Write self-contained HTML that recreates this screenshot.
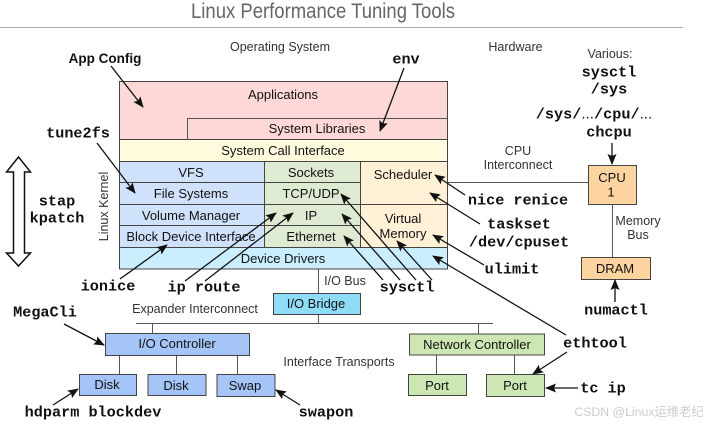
<!DOCTYPE html>
<html><head><meta charset="utf-8"><style>
html,body{margin:0;padding:0;background:#fff}
svg{display:block;filter:blur(.3px)}
text{font-family:"Liberation Sans","Noto Sans CJK SC",sans-serif;font-size:13px;fill:#111;text-anchor:middle}
.m{font-family:"Liberation Mono",monospace;font-weight:bold;font-size:15.2px;fill:#111}
.m tspan{font-family:"Liberation Sans",sans-serif;font-weight:normal}
.s{fill:#333;font-size:12.500px}
.b{stroke:#444;stroke-width:1}
.a{stroke:#111;stroke-width:1.3;fill:none;marker-end:url(#h)}
.l{stroke:#555;stroke-width:1;fill:none}
</style></head><body>
<svg width="718" height="425" viewBox="0 0 718 425" xmlns="http://www.w3.org/2000/svg">
<defs><marker id="h" markerUnits="userSpaceOnUse" markerWidth="11" markerHeight="9" refX="10" refY="4.500" orient="auto"><path d="M0,0L11,4.500L0,9L2,4.500Z" fill="#111"/></marker></defs>
<text x="323" y="18" textLength="264" lengthAdjust="spacingAndGlyphs" style="font-size:21px;fill:#666">Linux Performance Tuning Tools</text>
<line x1="0" y1="27.500" x2="683" y2="27.500" stroke="#aaa"/>
<text x="280" y="51" class="s">Operating System</text>
<text x="515.500" y="51" class="s">Hardware</text>
<text x="610" y="58" class="s">Various:</text>

<rect x="119.500" y="81.500" width="328" height="58" fill="#fed7d7" class="b"/>
<path d="M187.500 139V118.500H447" class="l" stroke="#444"/>
<rect x="119.500" y="139.500" width="328" height="22" fill="#fffbdc" class="b"/>
<rect x="119.500" y="161.500" width="145" height="21" fill="#d0e2fb" class="b"/>
<rect x="119.500" y="182.500" width="145" height="22" fill="#d0e2fb" class="b"/>
<rect x="119.500" y="204.500" width="145" height="21" fill="#d0e2fb" class="b"/>
<rect x="119.500" y="225.500" width="145" height="22" fill="#d0e2fb" class="b"/>
<rect x="264.500" y="161.500" width="96" height="21" fill="#dfead2" class="b"/>
<rect x="264.500" y="182.500" width="96" height="22" fill="#dfead2" class="b"/>
<rect x="264.500" y="204.500" width="96" height="21" fill="#dfead2" class="b"/>
<rect x="264.500" y="225.500" width="96" height="22" fill="#dfead2" class="b"/>
<rect x="360.500" y="161.500" width="87" height="43" fill="#fff0d6" class="b"/>
<rect x="360.500" y="204.500" width="87" height="43" fill="#fff0d6" class="b"/>
<rect x="119.500" y="247.500" width="328" height="21.500" fill="#cbeefe" class="b"/>

<text x="283" y="99">Applications</text>
<text x="317" y="133">System Libraries</text>
<text x="283" y="155">System Call Interface</text>
<text x="191" y="177">VFS</text>
<text x="191" y="198">File Systems</text>
<text x="191" y="220">Volume Manager</text>
<text x="191" y="241">Block Device Interface</text>
<text x="311" y="177">Sockets</text>
<text x="311" y="198">TCP/UDP</text>
<text x="311" y="220">IP</text>
<text x="311" y="241">Ethernet</text>
<text x="403" y="179">Scheduler</text>
<text x="403" y="223">Virtual</text>
<text x="403" y="238">Memory</text>
<text x="283" y="263">Device Drivers</text>
<text transform="translate(108,206.500) rotate(-90)" class="s" x="0" y="0">Linux Kernel</text>

<path d="M318.500 269V293M318.500 314V323M136 323.500H493M152.500 323V333M478.500 323V334M119.500 355V374M176.500 355V374M237.500 355V374M436.500 355V374M514.500 355V374M447 182.500H588M612.500 204V257" class="l"/>
<rect x="273.500" y="293.500" width="87" height="21" fill="#8fdcf7" class="b"/>
<rect x="105.500" y="333.500" width="144" height="22" fill="#a5c5f8" class="b"/>
<rect x="79.500" y="374.500" width="57" height="21" fill="#a5c5f8" class="b"/>
<rect x="148" y="374.500" width="58" height="21" fill="#a5c5f8" class="b"/>
<rect x="217" y="374.500" width="58" height="22" fill="#a5c5f8" class="b"/>
<rect x="409.500" y="334" width="135" height="21" fill="#cde7b4" class="b"/>
<rect x="408.500" y="374.500" width="58" height="21" fill="#cde7b4" class="b"/>
<rect x="486.500" y="374.500" width="58" height="22" fill="#cde7b4" class="b"/>
<rect x="588.500" y="165.500" width="48" height="39" fill="#fdd4a0" class="b"/>
<rect x="581.500" y="257.500" width="69" height="22" fill="#fdd4a0" class="b"/>

<text x="316" y="308">I/O Bridge</text>
<text x="177" y="348">I/O Controller</text>
<text x="107" y="389">Disk</text>
<text x="176" y="390">Disk</text>
<text x="245" y="390">Swap</text>
<text x="477" y="349">Network Controller</text>
<text x="437" y="390">Port</text>
<text x="515" y="390">Port</text>
<text x="612" y="182">CPU</text>
<text x="611" y="196.500">1</text>
<text x="615" y="273">DRAM</text>
<text x="518" y="155" class="s">CPU</text>
<text x="518" y="169" class="s">Interconnect</text>
<text x="638" y="225" class="s">Memory</text>
<text x="638" y="239" class="s">Bus</text>
<text x="345" y="285" class="s">I/O Bus</text>
<text x="195" y="313" class="s">Expander Interconnect</text>
<text x="339" y="366" class="s">Interface Transports</text>

<text x="105" y="63" style="font-weight:bold;font-size:13.500px">App Config</text>
<text x="406" y="63.500" class="m">env</text>
<text x="78" y="137.500" class="m">tune2fs</text>
<text x="57" y="205.500" class="m">stap</text>
<text x="57" y="222.500" class="m">kpatch</text>
<text x="108" y="290.500" class="m">ionice</text>
<text x="204" y="291.500" class="m">ip route</text>
<text x="407" y="291.500" class="m">sysctl</text>
<text x="45" y="316.500" class="m">MegaCli</text>
<text x="93" y="416.500" class="m">hdparm blockdev</text>
<text x="326" y="416.500" class="m">swapon</text>
<text x="609" y="76.500" class="m">sysctl</text>
<text x="609" y="93.500" class="m">/sys</text>
<text x="594" y="118.500" class="m">/sys/<tspan>...</tspan>/cpu/<tspan>...</tspan></text>
<text x="609" y="136.500" class="m">chcpu</text>
<text x="518" y="204.500" class="m">nice renice</text>
<text x="519" y="228.500" class="m">taskset</text>
<text x="519" y="246.500" class="m">/dev/cpuset</text>
<text x="512" y="273.500" class="m">ulimit</text>
<text x="616" y="314.500" class="m">numactl</text>
<text x="595" y="347.500" class="m">ethtool</text>
<text x="603" y="392.500" class="m">tc ip</text>

<path class="a" d="M111 66L143 107"/>
<path class="a" d="M404 68L380 131"/>
<path class="a" d="M97 143L135 193"/>
<path class="a" d="M120 279L167 245"/>
<path class="a" d="M185 281L276 213"/>
<path class="a" d="M205 281L293 213"/>
<path class="a" d="M416 280L341 194"/>
<path class="a" d="M400 280L342 214"/>
<path class="a" d="M383 280L344 236"/>
<path class="a" d="M432 280L397 241"/>
<path class="a" d="M465 195L435 175"/>
<path class="a" d="M480 224L430 193"/>
<path class="a" d="M484 265L433 235"/>
<path class="a" d="M566 335L433 256"/>
<path class="a" d="M567 352L533 374"/>
<path class="a" d="M578 388L546 388"/>
<path class="a" d="M612 143V164"/>
<path class="a" d="M615 302V280"/>
<path class="a" d="M64 324L104 345"/>
<path class="a" d="M53 405L78 389"/>
<path class="a" d="M300 405L276 390"/>
<path d="M18.500 157L6.500 172H13.500V253H6.500L18.500 266L30.500 253H24.500V172H30.500Z" fill="#fff" stroke="#111" stroke-width="1.500"/>
<text x="639" y="416" style="font-size:12.300px;fill:#ccc">CSDN @Linux运维老纪</text>
</svg>
</body></html>
